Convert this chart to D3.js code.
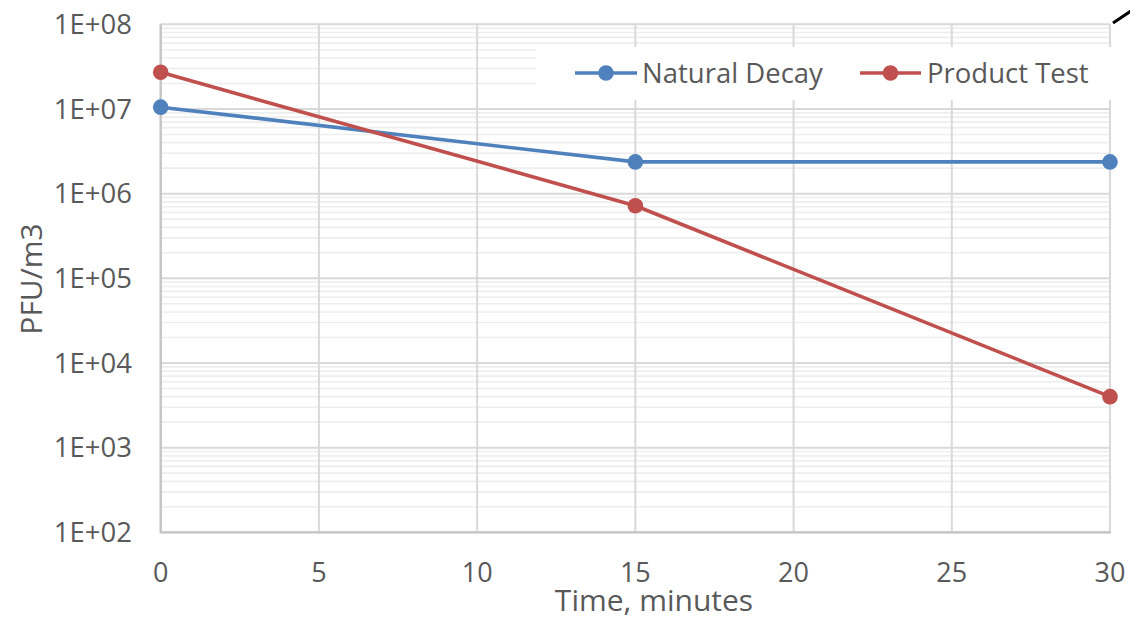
<!DOCTYPE html>
<html><head><meta charset="utf-8">
<script src="https://cdn.jsdelivr.net/npm/d3@7"></script>
<style>
html,body{margin:0;padding:0;background:#fff;}
svg{display:block;}
text{font-family:"Open Sans",sans-serif;fill:#595959;}
</style></head>
<body>
<svg id="chart" width="1130" height="622"></svg>
<script>
const times = [0, 15, 30];
const naturalDecay = [1.05e7, 2.37e6, 2.37e6];
const productTest = [2.71e7, 7.2e5, 4.0e3];
const seriesNames = ["Natural Decay", "Product Test"];
const seriesColors = ["#4f81bd", "#c0504d"];
const xTicks = [0, 5, 10, 15, 20, 25, 30];
const yTicks = [1e2, 1e3, 1e4, 1e5, 1e6, 1e7, 1e8];
const yTickLabels = ["1E+02","1E+03","1E+04","1E+05","1E+06","1E+07","1E+08"];

const svg = d3.select("#chart");
const W = 1130, H = 622;
const m = {left:160.7, right:20, top:24.3, bottom:89.7};
const x = d3.scaleLinear().domain([0,30]).range([m.left, W - m.right]);
const y = d3.scaleLog().domain([1e2,1e8]).range([H - m.bottom, m.top]);

// minor gridlines
const minor = [];
for (let e = 2; e < 8; e++) for (let k = 2; k <= 9; k++) minor.push(k * Math.pow(10, e));
svg.append("g").selectAll("line").data(minor).join("line")
  .attr("x1", x(0)).attr("x2", x(30))
  .attr("y1", d => y(d)).attr("y2", d => y(d))
  .attr("stroke", "#eeeeee").attr("stroke-width", 1.6);

// major horizontal gridlines
svg.append("g").selectAll("line").data(yTicks).join("line")
  .attr("x1", x(0)).attr("x2", x(30))
  .attr("y1", d => y(d)).attr("y2", d => y(d))
  .attr("stroke", "#d9d9d9").attr("stroke-width", 2);

// vertical gridlines
svg.append("g").selectAll("line").data(xTicks).join("line")
  .attr("x1", d => x(d)).attr("x2", d => x(d))
  .attr("y1", y(1e8)).attr("y2", y(1e2))
  .attr("stroke", "#d9d9d9").attr("stroke-width", 2);

// axis lines
svg.append("line").attr("x1", x(0)).attr("x2", x(0)).attr("y1", y(1e8)).attr("y2", y(1e2))
  .attr("stroke", "#c4c4c4").attr("stroke-width", 2.2);
svg.append("line").attr("x1", x(0) - 1).attr("x2", x(30) + 1).attr("y1", y(1e2)).attr("y2", y(1e2))
  .attr("stroke", "#c4c4c4").attr("stroke-width", 2.2);

// y tick labels
svg.append("g").selectAll("text").data(yTicks).join("text")
  .attr("x", 132).attr("y", d => y(d)).attr("dy", "0.35em")
  .attr("text-anchor", "end").style("font-size", "27.5px")
  .text((d, i) => yTickLabels[i]);

// x tick labels
svg.append("g").selectAll("text").data(xTicks).join("text")
  .attr("x", d => x(d)).attr("y", 582)
  .attr("text-anchor", "middle").style("font-size", "27px")
  .text(d => d);

// axis titles
svg.append("text").attr("x", 654).attr("y", 611).attr("text-anchor", "middle")
  .style("font-size", "30px").text("Time, minutes");
svg.append("text").attr("transform", "translate(42,279) rotate(-90)")
  .attr("text-anchor", "middle").style("font-size", "30px").text("PFU/m3");

// legend background
svg.append("rect").attr("x", 536).attr("y", 47).attr("width", 580).attr("height", 53).attr("fill", "#fff");

// series
const allSeries = [naturalDecay, productTest];
const line = d3.line().x((d, i) => x(times[i])).y(d => y(d));
allSeries.forEach((vals, si) => {
  const g = svg.append("g");
  g.append("path").datum(vals).attr("d", line).attr("fill", "none")
    .attr("stroke", seriesColors[si]).attr("stroke-width", 3.6).attr("stroke-linejoin", "round");
  g.selectAll("circle").data(vals).join("circle")
    .attr("cx", (d, i) => x(times[i])).attr("cy", d => y(d)).attr("r", 7.8)
    .attr("fill", seriesColors[si]);
});

// legend items
const legendX = [[575, 637, 642], [860, 921, 927]];
seriesNames.forEach((name, i) => {
  const [l1, l2, tx] = legendX[i];
  svg.append("line").attr("x1", l1).attr("x2", l2).attr("y1", 73).attr("y2", 73)
    .attr("stroke", seriesColors[i]).attr("stroke-width", 3.6);
  svg.append("circle").attr("cx", (l1 + l2) / 2).attr("cy", 73).attr("r", 7.8).attr("fill", seriesColors[i]);
  svg.append("text").attr("x", tx).attr("y", 73).attr("dy", "0.35em")
    .style("font-size", "27.5px").text(name);
});

// corner artifact stroke
svg.append("line").attr("x1", 1113).attr("y1", 23).attr("x2", 1131).attr("y2", 11)
  .attr("stroke", "#000").attr("stroke-width", 3);
</script>
</body></html>
